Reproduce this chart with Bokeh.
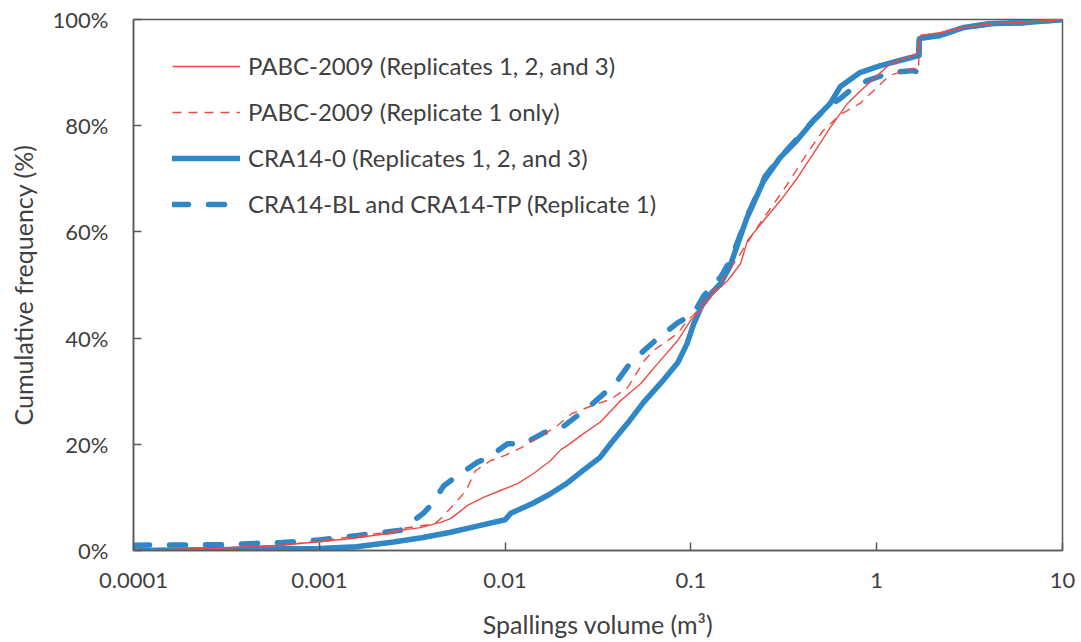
import numpy as np
from bokeh.plotting import figure
from bokeh.models import Legend, LegendItem, FixedTicker, ColumnDataSource
from bokeh.embed import file_html
from bokeh.resources import INLINE

# Spalling volumes are listed as log10(m^3); cumulative frequency in percent.
pabc_all_logv = [-4.0, -3.5, -3.2, -3.05, -2.84, -2.63, -2.563, -2.455, -2.348, -2.294,
                 -2.256, -2.202, -2.116, -2.025, -1.933, -1.847, -1.756, -1.70, -1.664,
                 -1.578, -1.487, -1.379, -1.271, -1.164, -1.072, -1.002, -0.948, -0.878,
                 -0.803, -0.733, -0.695, -0.609, -0.518, -0.426, -0.340, -0.249, -0.157,
                 -0.087, 0.074, 0.22, 0.236, 0.34, 0.47, 0.61, 0.80, 1.0]
pabc_all_freq = [0.0, 0.5, 1.0, 1.5, 2.2, 3.2, 3.8, 4.3, 5.3, 6.0,
                 7.0, 8.5, 10.0, 11.3, 12.6, 14.5, 16.9, 19.0, 19.8,
                 22.0, 24.2, 28.2, 31.4, 35.8, 39.5, 43.3, 45.2, 48.4,
                 50.8, 54.0, 58.4, 62.1, 65.9, 70.2, 74.8, 79.7, 84.2,
                 86.6, 91.7, 93.6, 97.0, 97.5, 98.5, 99.2, 99.5, 100.0]

pabc_rep1_logv = [-4.0, -3.5, -3.2, -3.0, -2.8, -2.6, -2.56, -2.38, -2.34, -2.29,
                  -2.21, -2.16, -2.08, -2.0, -1.91, -1.82, -1.73, -1.64, -1.53, -1.43,
                  -1.34, -1.25, -1.2, -1.07, -1.02, -0.985, -0.92, -0.84, -0.75, -0.65,
                  -0.56, -0.47, -0.38, -0.29, -0.2, -0.09, 0.07, 0.2, 0.225, 0.23,
                  0.35, 0.47, 0.61, 0.80, 1.0]
pabc_rep1_freq = [0.0, 0.5, 1.0, 1.8, 2.7, 3.6, 4.1, 5.0, 6.2, 8.1,
                  11.3, 15.0, 16.9, 17.9, 19.4, 21.3, 23.2, 25.8, 27.3, 28.5,
                  30.7, 35.8, 37.7, 40.9, 43.3, 44.3, 47.5, 50.5, 55.0, 60.5,
                  65.0, 69.5, 74.5, 79.0, 82.0, 84.2, 89.5, 90.8, 90.5, 97.0,
                  97.5, 98.5, 99.2, 99.5, 100.0]

cra0_logv = [-4.0, -3.5, -3.0, -2.8, -2.6, -2.45, -2.3, -2.15, -2.0, -1.97,
             -1.85, -1.76, -1.67, -1.58, -1.49, -1.43, -1.34, -1.255, -1.16, -1.07,
             -1.02, -0.986, -0.93, -0.84, -0.79, -0.75, -0.70, -0.61, -0.52, -0.43,
             -0.34, -0.25, -0.195, -0.09, 0.02, 0.17, 0.225, 0.23, 0.34, 0.47,
             0.61, 0.79, 1.0]
cra0_freq = [0.0, 0.2, 0.4, 0.7, 1.6, 2.4, 3.4, 4.6, 5.8, 7.0,
             8.9, 10.6, 12.6, 15.1, 17.5, 20.2, 24.0, 27.9, 31.6, 35.4,
             39.0, 42.6, 47.0, 50.3, 53.5, 57.5, 62.5, 69.5, 74.0, 77.2,
             81.0, 84.2, 87.4, 90.0, 91.3, 92.7, 93.2, 96.4, 97.0, 98.5,
             99.2, 99.4, 100.0]

cra_bltp_logv = [-4.0, -3.5, -3.3, -3.2, -3.0, -2.8, -2.563, -2.44, -2.39, -2.33,
                 -2.256, -2.15, -2.09, -1.987, -1.90, -1.79, -1.70, -1.61, -1.54, -1.45,
                 -1.395, -1.325, -1.27, -1.18, -1.07, -0.986, -0.93, -0.84, -0.79, -0.75,
                 -0.69, -0.6, -0.52, -0.43, -0.34, -0.25, -0.2, -0.125, -0.05, 0.074,
                 0.198, 0.225, 0.23, 0.34, 0.47, 0.61, 0.79, 1.0]
cra_bltp_freq = [1.0, 1.1, 1.4, 1.5, 2.0, 2.8, 3.8, 7.0, 8.9, 12.2,
                 14.1, 16.6, 17.5, 20.1, 20.1, 22.2, 23.0, 25.4, 27.3, 30.1,
                 32.0, 35.4, 37.1, 39.9, 42.9, 44.6, 48.0, 51.5, 54.5, 58.0,
                 63.5, 70.5, 74.0, 77.5, 81.0, 84.0, 85.0, 87.2, 88.5, 90.0,
                 90.4, 90.0, 96.4, 97.0, 98.5, 99.2, 99.4, 100.0]

x_ticks = [0.0001, 0.001, 0.01, 0.1, 1, 10]
x_tick_labels = ["0.0001", "0.001", "0.01", "0.1", "1", "10"]
y_ticks = [0, 20, 40, 60, 80, 100]
y_tick_labels = ["0%", "20%", "40%", "60%", "80%", "100%"]

series_labels = [
    "PABC-2009 (Replicates 1, 2, and 3)",
    "PABC-2009 (Replicate 1 only)",
    "CRA14-0 (Replicates 1, 2, and 3)",
    "CRA14-BL and CRA14-TP (Replicate 1)",
]

RED = "#ee4a43"
BLUE = "#2f87c6"
FONT = "Lato"
TEXT = "#404040"


def src(logv, freq):
    return ColumnDataSource(dict(v=np.power(10.0, np.array(logv)), f=freq))


p = figure(width=1081, height=642, x_axis_type="log",
           x_range=(0.0001, 10), y_range=(0, 100),
           output_backend="svg", toolbar_location=None,
           min_border_left=133, min_border_right=19,
           min_border_top=19, min_border_bottom=92)
p.background_fill_color = "white"
p.border_fill_color = "white"
p.outline_line_color = "#5a5a5a"
p.outline_line_width = 1.5
p.xgrid.visible = False
p.ygrid.visible = False

r_dash_blue = p.line("v", "f", source=src(cra_bltp_logv, cra_bltp_freq), line_color=BLUE,
                     line_width=5.5, line_dash="16 20", line_cap="round", line_join="round")
r_solid_blue = p.line("v", "f", source=src(cra0_logv, cra0_freq), line_color=BLUE,
                      line_width=5.5, line_cap="round", line_join="round")
r_dash_red = p.line("v", "f", source=src(pabc_rep1_logv, pabc_rep1_freq), line_color=RED,
                    line_width=1.4, line_dash="9 7")
r_solid_red = p.line("v", "f", source=src(pabc_all_logv, pabc_all_freq), line_color=RED,
                     line_width=1.4)

# axes
for ax in (p.xaxis[0], p.yaxis[0]):
    ax.axis_line_color = "#5a5a5a"
    ax.axis_line_width = 1.5
    ax.major_tick_in = 8
    ax.major_tick_out = 0
    ax.major_tick_line_color = "#5a5a5a"
    ax.major_tick_line_width = 1.5
    ax.minor_tick_line_color = None
    ax.major_label_text_font = FONT
    ax.major_label_text_font_size = "22px"
    ax.major_label_text_color = TEXT
    ax.axis_label_text_font = FONT
    ax.axis_label_text_font_size = "25px"
    ax.axis_label_text_font_style = "normal"
    ax.axis_label_text_color = TEXT

p.xaxis.ticker = FixedTicker(ticks=x_ticks)
p.xaxis.major_label_overrides = {t: s for t, s in zip(x_ticks, x_tick_labels)}
p.xaxis.major_label_standoff = 22
p.xaxis.axis_label = "Spallings volume (m³)"
p.xaxis.axis_label_standoff = 18

p.yaxis.ticker = FixedTicker(ticks=y_ticks)
p.yaxis.major_label_overrides = {t: s for t, s in zip(y_ticks, y_tick_labels)}
p.yaxis.major_label_standoff = 25
p.yaxis.axis_label = "Cumulative frequency (%)"
p.yaxis.axis_label_standoff = 12

legend = Legend(items=[
    LegendItem(label=series_labels[0], renderers=[r_solid_red]),
    LegendItem(label=series_labels[1], renderers=[r_dash_red]),
    LegendItem(label=series_labels[2], renderers=[r_solid_blue]),
    LegendItem(label=series_labels[3], renderers=[r_dash_blue]),
], location=(39, 332))
legend.border_line_alpha = 0
legend.background_fill_alpha = 0
legend.padding = 0
legend.margin = 0
legend.spacing = 17
legend.glyph_width = 68
legend.glyph_height = 24
legend.label_height = 24
legend.label_standoff = 8
legend.label_text_font = FONT
legend.label_text_font_size = "24px"
legend.label_text_color = TEXT
p.add_layout(legend, "center")

open("out.html", "w").write(file_html(p, INLINE))
